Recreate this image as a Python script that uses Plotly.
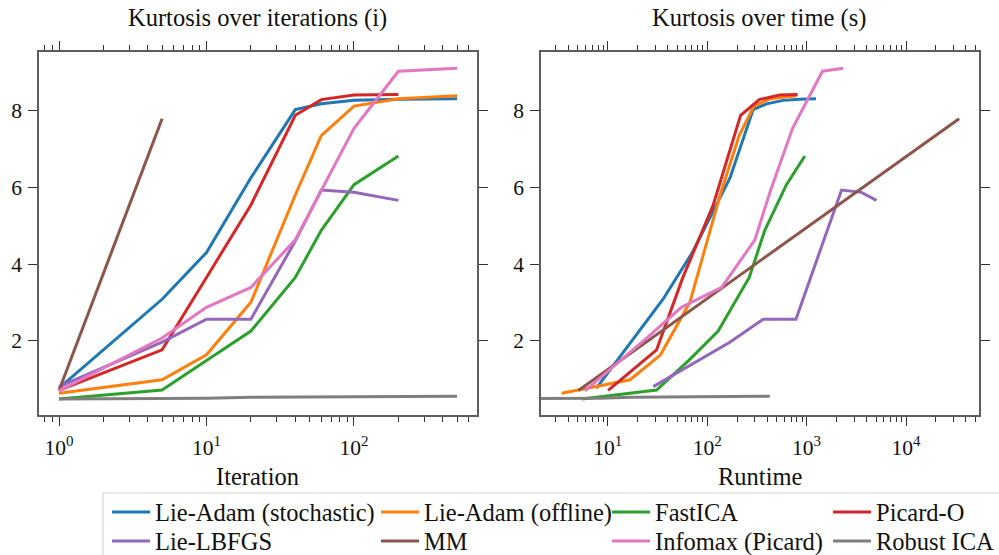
import plotly.graph_objects as go

# ---- data -------------------------------------------------------------
iters9 = [1, 5, 10, 20, 40, 60, 100, 200, 500]
iters8 = [1, 5, 10, 20, 40, 60, 100, 200]

lie_adam_stoch_iter = iters9
lie_adam_stoch_kurt = [0.76, 3.08, 4.30, 6.25, 8.03, 8.18, 8.27, 8.30, 8.31]
lie_adam_stoch_time = [7.7, 36, 71, 170, 290, 396, 582, 850, 1242]

lie_adam_off_iter = iters9
lie_adam_off_kurt = [0.63, 0.98, 1.63, 3.0, 5.8, 7.35, 8.12, 8.31, 8.39]
lie_adam_off_time = [3.45, 16.8, 34, 67, 135, 210, 295, 427, 795]

fastica_iter = iters8
fastica_kurt = [0.48, 0.71, 1.48, 2.25, 3.65, 4.88, 6.07, 6.82]
fastica_time = [5.5, 31, 65, 129, 265, 380, 627, 961]

picard_o_iter = iters8
picard_o_kurt = [0.70, 1.76, 3.65, 5.54, 7.88, 8.29, 8.41, 8.42]
picard_o_time = [10.1, 31, 57, 115, 217, 334, 537, 813]

lbfgs_iter = iters8
lbfgs_kurt = [0.80, 1.96, 2.56, 2.56, 4.6, 5.93, 5.87, 5.66]
lbfgs_time = [28.7, 169, 366, 782, 1480, 2249, 3570, 5040]

mm_iter = [1, 5]
mm_kurt = [0.70, 7.79]
mm_time = [5.07, 34200]

infomax_iter = iters9
infomax_kurt = [0.69, 2.07, 2.87, 3.39, 4.63, 5.92, 7.54, 9.03, 9.11]
infomax_time = [5.9, 24.8, 55, 140, 302, 434, 723, 1445, 2333]

robust_iter = iters9
robust_kurt = [0.48, 0.49, 0.50, 0.52, 0.53, 0.53, 0.54, 0.54, 0.55]
robust_time = [0.85, 4.3, 8.5, 17, 34, 51, 85, 170, 427]

series = [
    ("Lie-Adam (stochastic)", "#1f77b4", lie_adam_stoch_iter, lie_adam_stoch_time, lie_adam_stoch_kurt),
    ("Lie-Adam (offline)", "#ff7f0e", lie_adam_off_iter, lie_adam_off_time, lie_adam_off_kurt),
    ("FastICA", "#2ca02c", fastica_iter, fastica_time, fastica_kurt),
    ("Picard-O", "#d62728", picard_o_iter, picard_o_time, picard_o_kurt),
    ("Lie-LBFGS", "#9467bd", lbfgs_iter, lbfgs_time, lbfgs_kurt),
    ("MM", "#8c564b", mm_iter, mm_time, mm_kurt),
    ("Infomax (Picard)", "#e377c2", infomax_iter, infomax_time, infomax_kurt),
    ("Robust ICA", "#7f7f7f", robust_iter, robust_time, robust_kurt),
]

y_ticks = [2, 4, 6, 8]
x1_major = [1, 10, 100]
x1_labels = ["10<sup>0</sup>", "10<sup>1</sup>", "10<sup>2</sup>"]
x2_major = [10, 100, 1000, 10000]
x2_labels = ["10<sup>1</sup>", "10<sup>2</sup>", "10<sup>3</sup>", "10<sup>4</sup>"]

# ---- figure -----------------------------------------------------------
W, H = 999, 555
FONT = "Liberation Serif, Times New Roman, DejaVu Serif, serif"
FRAME = "#5e5e5e"
TICK = "#333333"
TXT = "#111111"
TITLE_SIZE = 24.5
TICK_SIZE = 21.5

# legend slots: 4 columns x 2 rows (left px of each column, centre px of each row)
col_px = [107, 376, 607, 828]
row_px = [512, 541]

fig = go.Figure()
for i, (name, color, it, tm, ku) in enumerate(series):
    fig.add_trace(go.Scatter(x=it, y=ku, mode="lines", name=name,
                             legend="legend" if i == 0 else f"legend{i + 1}",
                             line=dict(color=color, width=3),
                             xaxis="x", yaxis="y", showlegend=True))
for name, color, it, tm, ku in series:
    fig.add_trace(go.Scatter(x=tm, y=ku, mode="lines", name=name,
                             line=dict(color=color, width=3),
                             xaxis="x2", yaxis="y2", showlegend=False))


def minor_vals(lo_dec, hi_dec, lo, hi):
    vals = []
    for d in range(lo_dec, hi_dec + 1):
        for m in range(2, 10):
            v = m * 10 ** d
            if lo <= v <= hi:
                vals.append(v)
    return vals


def xaxis_style(domain, rng, tickvals, ticktext, minors, anchor):
    return dict(
        domain=domain, type="log", range=rng, anchor=anchor,
        tickmode="array", tickvals=tickvals, ticktext=ticktext,
        ticks="outside", ticklen=9, tickwidth=1, tickcolor=TICK,
        ticklabelstandoff=3,
        minor=dict(tickmode="array", tickvals=minors, ticks="outside",
                   ticklen=5, tickwidth=1, tickcolor=TICK, showgrid=False),
        showline=True, linecolor=FRAME, linewidth=1.5, mirror="allticks",
        showgrid=False, zeroline=False, automargin=False,
        tickfont=dict(family=FONT, size=TICK_SIZE, color=TXT),
    )


def yaxis_style(anchor):
    return dict(
        domain=[1 - 415 / H, 1 - 51.7 / H], range=[0.06, 9.54], anchor=anchor,
        tickmode="array", tickvals=y_ticks,
        ticks="outside", ticklen=9, tickwidth=1, tickcolor=TICK,
        ticklabelstandoff=2,
        showline=True, linecolor=FRAME, linewidth=1.5, mirror="allticks",
        showgrid=False, zeroline=False, automargin=False,
        tickfont=dict(family=FONT, size=TICK_SIZE, color=TXT),
    )


fig.update_layout(
    width=W, height=H,
    margin=dict(l=0, r=0, t=0, b=0, autoexpand=False),
    paper_bgcolor="white", plot_bgcolor="white",
    font=dict(family=FONT, size=TICK_SIZE, color=TXT),
    xaxis=xaxis_style([39 / W, 477 / W], [-0.1356, 2.834], x1_major, x1_labels,
                      minor_vals(-1, 2, 0.73, 682), "y"),
    yaxis=yaxis_style("x"),
    xaxis2=xaxis_style([541 / W, 979 / W], [0.329, 4.734], x2_major, x2_labels,
                       minor_vals(0, 4, 2.13, 54200), "y2"),
    yaxis2=yaxis_style("x2"),
)

# subplot and axis titles
for txt, cx, cy in [("Kurtosis over iterations (i)", 257.7, 18),
                    ("Kurtosis over time (s)", 759.3, 18),
                    ("Iteration", 257.5, 476),
                    ("Runtime", 760, 476)]:
    fig.add_annotation(text=txt, x=cx / W, y=1 - cy / H, xref="paper", yref="paper",
                       xanchor="center", yanchor="middle", showarrow=False,
                       font=dict(family=FONT, size=TITLE_SIZE, color=TXT))

# one legend per entry, laid out as 4 columns x 2 rows inside one frame
for i in range(len(series)):
    key = "legend" if i == 0 else f"legend{i + 1}"
    cx = col_px[i % 4]
    cy = row_px[i // 4]
    fig.update_layout({key: dict(
        x=cx / W, y=1 - cy / H, xanchor="left", yanchor="middle",
        orientation="v", bgcolor="rgba(0,0,0,0)", borderwidth=0, itemwidth=38,
        font=dict(family=FONT, size=TITLE_SIZE, color=TXT))})

fig.add_shape(type="rect", xref="paper", yref="paper",
              x0=103 / W, x1=1.02, y0=-0.1, y1=1 - 493 / H,
              line=dict(color="#d4d4d4", width=1.2), fillcolor="rgba(0,0,0,0)",
              layer="below")

fig.write_html("out.html")
